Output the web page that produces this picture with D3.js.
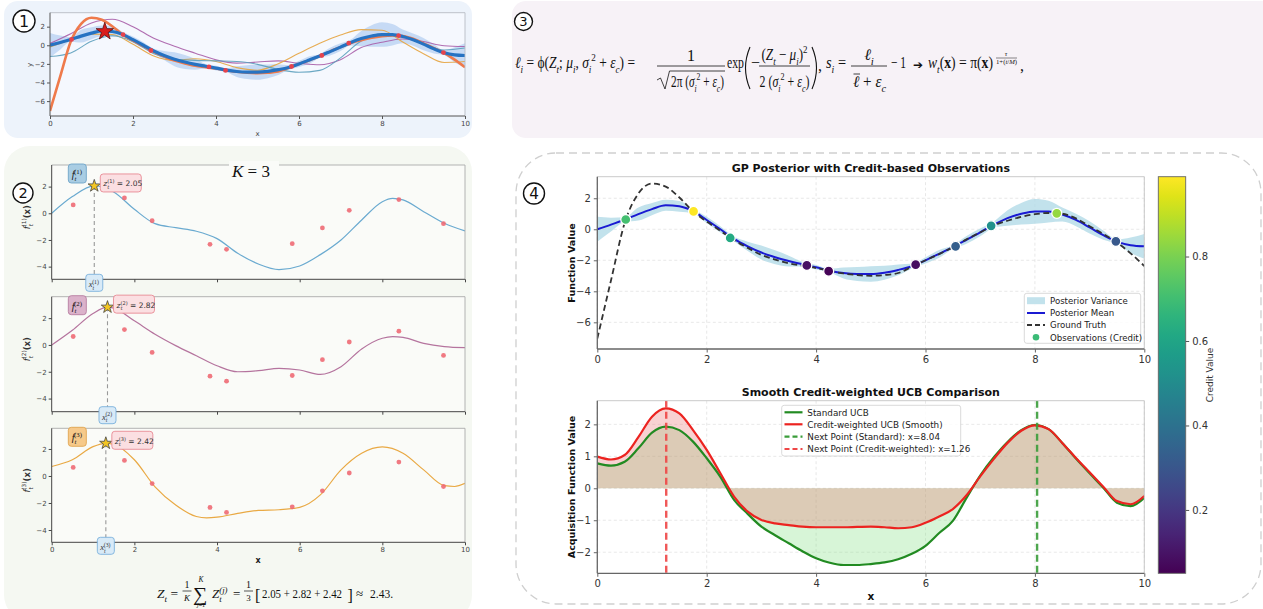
<!DOCTYPE html>
<html><head><meta charset="utf-8">
<script src="https://cdn.jsdelivr.net/npm/d3@7/dist/d3.min.js"></script>
<style>html,body{margin:0;padding:0;background:#fff;}svg{display:block;} text{white-space:pre;}</style>
</head><body>
<svg id="fig" width="1263" height="609"></svg>
<script>
// ================= DATA =================
const xGrid = [0,0.25,0.5,0.75,1,1.25,1.5,1.75,2,2.25,2.5,2.75,3,3.25,3.5,3.75,4,4.25,4.5,4.75,5,5.25,5.5,5.75,6,6.25,6.5,6.75,7,7.25,7.5,7.75,8,8.25,8.5,8.75,9,9.25,9.5,9.75,10];
const groundTruth = [-7.05,-3.3,0.4,2.3,2.95,2.75,2.05,1.15,0.5,-0.1,-0.7,-1.2,-1.65,-1.95,-2.2,-2.35,-2.5,-2.68,-2.85,-2.95,-3.0,-2.95,-2.82,-2.42,-2.0,-1.6,-1.15,-0.65,-0.2,0.25,0.55,0.8,0.97,1.05,1.0,0.7,0.2,-0.3,-0.85,-1.55,-2.37];
const posteriorMean = [0,0.3,0.62,0.98,1.3,1.55,1.48,1.17,0.6,0.0,-0.62,-1.1,-1.5,-1.8,-2.05,-2.25,-2.45,-2.67,-2.82,-2.88,-2.88,-2.8,-2.62,-2.38,-2.0,-1.58,-1.15,-0.68,-0.2,0.3,0.72,1.0,1.15,1.14,0.95,0.6,0.12,-0.38,-0.8,-1.03,-1.1];
const posteriorStd = [0.8,0.45,0.15,0.42,0.39,0.35,0.35,0.15,0.2,0.2,0.15,0.3,0.45,0.45,0.35,0.15,0.15,0.12,0.35,0.45,0.5,0.45,0.35,0.15,0.2,0.25,0.12,0.25,0.25,0.2,0.5,0.7,0.8,0.7,0.45,0.4,0.4,0.3,0.15,0.5,0.8];
const obsX = [0.52,1.76,2.43,3.83,4.23,5.82,6.55,7.2,8.4,9.48];
const obsY = [0.63,1.15,-0.56,-2.33,-2.7,-2.28,-1.1,0.22,1.03,-0.78];
const obsCredit = [0.71,0.99,0.62,0.09,0.06,0.08,0.33,0.52,0.84,0.31];

// panel 1 posterior samples
const sampleGrid = [0,0.5,1,1.5,2,2.5,3,3.5,4,4.5,5,5.5,6,6.5,7,7.5,8,8.5,9,9.5,10];
const p1SamplePurple = [0.2,1.25,2.4,2.8,2.0,0.75,-0.1,-0.85,-1.57,-1.92,-1.8,-1.68,-1.93,-2.1,-1.55,-0.25,0.32,0.67,0.4,-0.05,-0.14];
const p1SampleOrange = [-0.2,0.6,1.2,1.15,0.1,-1.15,-1.62,-1.45,-1.75,-2.4,-2.68,-1.98,-0.86,0.21,1.1,1.68,1.62,0.35,-0.9,-1.85,-1.75];
const p1SampleTeal = [-1.21,-0.82,0.42,1.02,0.39,-0.9,-1.5,-1.62,-1.68,-1.74,-2.05,-2.6,-2.9,-2.7,-1.35,0.45,1.1,1.0,0.15,-0.5,-0.3];
const p1Star = [1.32, 1.48];

// panel 2 Thompson samples
const p2Sample1X = [0,0.5,1.03,1.5,2,2.5,3,3.5,4,4.5,5,5.5,6,6.5,7,7.5,8,8.25,8.5,9,9.5,10];
const p2Sample1Y = [0,1.25,2.05,1.6,0.3,-0.78,-1.08,-1.35,-1.9,-3.0,-3.8,-4.22,-3.95,-3.1,-2.0,-0.5,0.87,1.12,1.0,0.12,-0.75,-1.32];
const p2Sample2X = [0,0.5,1,1.35,1.5,2,2.5,3,3.5,4,4.5,5,5.5,6,6.5,7,7.5,8,8.25,8.5,9,9.5,10];
const p2Sample2Y = [0,1.1,2.35,2.82,2.75,1.8,0.8,-0.05,-0.8,-1.55,-2.0,-1.92,-1.75,-1.87,-2.2,-1.62,-0.3,0.5,0.62,0.57,0.12,-0.12,-0.2];
const p2Sample3X = [0,0.5,1,1.31,1.5,2,2.5,3,3.5,3.75,4,4.5,5,5.5,6,6.5,7,7.5,8,8.5,9,9.5,9.75,10];
const p2Sample3Y = [0.7,1.2,2.17,2.42,2.35,1.2,-0.8,-2.15,-3.0,-3.1,-3.05,-2.77,-2.55,-2.5,-2.32,-1.4,0.45,1.68,2.15,1.68,0.45,-0.72,-0.78,-0.55];
const sampleLabels = ["(1)","(2)","(3)"];

// panel 4 acquisition
const ucbStandard = [0.78,0.71,0.83,1.25,1.74,1.93,1.82,1.46,0.94,0.36,-0.36,-0.8,-1.2,-1.47,-1.72,-1.97,-2.19,-2.33,-2.4,-2.4,-2.37,-2.32,-2.22,-2.05,-1.8,-1.4,-1.02,-0.3,0.4,0.97,1.45,1.82,1.98,1.85,1.42,0.93,0.47,0.02,-0.45,-0.56,-0.3];
const ucbCredit = [0.99,0.9,1.04,1.6,2.24,2.5,2.34,1.82,1.2,0.47,-0.26,-0.73,-0.99,-1.1,-1.15,-1.2,-1.22,-1.22,-1.22,-1.21,-1.2,-1.22,-1.25,-1.22,-1.08,-0.88,-0.65,-0.22,0.37,0.92,1.42,1.8,1.97,1.85,1.42,0.95,0.5,0.05,-0.4,-0.5,-0.24];
const nextStandard = 8.04;
const nextCredit = 1.26;

// ticks / labels
const xTicks = [0,2,4,6,8,10];
const p1YTicks = [-6,-4,-2,0,2];
const p2YTicks = [-4,-2,0,2];
const gpYTicks = [-6,-4,-2,0,2];
const acqYTicks = [-2,-1,0,1,2];
const cbTicks = [0.2,0.4,0.6,0.8];
const creditDomain = [0.05, 0.989];
const gpTitle = "GP Posterior with Credit-based Observations";
const acqTitle = "Smooth Credit-weighted UCB Comparison";
const legendGP = ["Posterior Variance","Posterior Mean","Ground Truth","Observations (Credit)"];
const legendAcq = ["Standard UCB","Credit-weighted UCB (Smooth)","Next Point (Standard): x=8.04","Next Point (Credit-weighted): x=1.26"];

// ================= HELPERS =================
const svg = d3.select("#fig");
const SANS = "'DejaVu Sans', sans-serif";
const SERIF = "'Liberation Serif', 'DejaVu Serif', serif";
const zip = (xs, ys) => xs.map((x, i) => [x, ys[i]]);
let clipN = 0;

function rich(g, x, y, parts, o = {}) {
  const size = o.size || 12;
  const t = g.append("text").attr("x", x).attr("y", y).attr("font-size", size)
    .attr("font-family", o.family || SERIF).attr("fill", o.fill || "#111");
  if (o.anchor) t.attr("text-anchor", o.anchor);
  if (o.weight) t.attr("font-weight", o.weight);
  if (o.len) t.attr("textLength", o.len).attr("lengthAdjust", "spacingAndGlyphs");
  if (o.transform) t.attr("transform", o.transform);
  let cur = 0;
  parts.forEach(p => {
    const arr = typeof p === "string" ? [p] : p;
    const s = arr[0], f = arr[1] || "", dx = arr[2];
    const fl = f.split(" ");
    let target = 0, fs = null;
    if (fl.includes("sub")) { target = size * 0.3; fs = size * 0.68; }
    if (fl.includes("sup")) { target = -size * 0.42; fs = size * 0.68; }
    const ts = t.append("tspan").text(s);
    if (target !== cur) ts.attr("dy", target - cur);
    cur = target;
    if (fs) ts.attr("font-size", fs);
    if (fl.includes("i")) ts.attr("font-style", "italic");
    if (fl.includes("b")) ts.attr("font-weight", "bold");
    if (dx) ts.attr("dx", dx);
  });
  return t;
}

function makePanel(g, o) {
  const x = d3.scaleLinear().domain(o.xDom).range([o.x0, o.x1]);
  const y = d3.scaleLinear().domain(o.yDom).range([o.y1, o.y0]);
  if (o.bg) g.append("rect").attr("x", o.x0).attr("y", o.y0).attr("width", o.x1 - o.x0).attr("height", o.y1 - o.y0).attr("fill", o.bg);
  if (o.grid) {
    const gg = g.append("g").attr("stroke", "#dedede").attr("stroke-width", 0.7).attr("stroke-dasharray", "3,2.5");
    gg.selectAll(".gx").data(o.xTicks).join("line").attr("x1", d => x(d)).attr("x2", d => x(d)).attr("y1", o.y0).attr("y2", o.y1);
    gg.selectAll(".gy").data(o.yTicks).join("line").attr("y1", d => y(d)).attr("y2", d => y(d)).attr("x1", o.x0).attr("x2", o.x1);
  }
  const id = "cp" + (clipN++);
  g.append("clipPath").attr("id", id).append("rect").attr("x", o.x0).attr("y", o.y0).attr("width", o.x1 - o.x0).attr("height", o.y1 - o.y0);
  const plot = g.append("g").attr("clip-path", `url(#${id})`);
  const over = g.append("g");
  over.append("line").attr("x1", o.x0).attr("x2", o.x1).attr("y1", o.y0).attr("y2", o.y0).attr("stroke", o.light).attr("stroke-width", 0.9);
  over.append("line").attr("x1", o.x1).attr("x2", o.x1).attr("y1", o.y0).attr("y2", o.y1).attr("stroke", o.light).attr("stroke-width", 0.9);
  over.append("line").attr("x1", o.x0).attr("x2", o.x0).attr("y1", o.y0).attr("y2", o.y1).attr("stroke", o.dark).attr("stroke-width", o.sw || 1);
  over.append("line").attr("x1", o.x0).attr("x2", o.x1).attr("y1", o.y1).attr("y2", o.y1).attr("stroke", o.dark).attr("stroke-width", o.sw || 1);
  const fmt = d3.format("d");
  const xa = over.append("g").attr("transform", `translate(0,${o.y1})`)
    .call(d3.axisBottom(x).tickValues(o.xTicks).tickSize(o.tl).tickPadding(o.tp).tickFormat(o.xLabels === false ? () => "" : fmt));
  const ya = over.append("g").attr("transform", `translate(${o.x0},0)`)
    .call(d3.axisLeft(y).tickValues(o.yTicks).tickSize(o.tl).tickPadding(o.tp).tickFormat(fmt));
  [xa, ya].forEach(a => {
    a.select(".domain").remove();
    a.selectAll("line").attr("stroke", o.dark);
    a.selectAll("text").attr("font-size", o.fs).attr("font-family", SANS).attr("fill", o.tc || "#333");
  });
  return { x, y, plot, over };
}

function circled(x, y, r, label) {
  svg.append("circle").attr("cx", x).attr("cy", y).attr("r", r).attr("fill", "#fff").attr("stroke", "#111").attr("stroke-width", 1.4);
  svg.append("text").attr("x", x).attr("y", y + r * 0.5).attr("text-anchor", "middle").attr("font-family", SANS)
    .attr("font-size", r * 1.45).attr("fill", "#111").text(label);
}

// ================= BACKGROUND CARDS =================
svg.append("rect").attr("x", 4).attr("y", 1).attr("width", 468).attr("height", 137).attr("rx", 14).attr("fill", "#edf3fb");
svg.append("rect").attr("x", 4).attr("y", 146).attr("width", 468).attr("height", 475).attr("rx", 26).attr("fill", "#f5f8f2");
svg.append("rect").attr("x", 512).attr("y", 1).attr("width", 770).attr("height", 137).attr("rx", 14).attr("fill", "#f7f2f7");
svg.append("rect").attr("x", 516).attr("y", 153).attr("width", 745).attr("height", 451).attr("rx", 40)
  .attr("fill", "none").attr("stroke", "#cfcfcf").attr("stroke-width", 1.3).attr("stroke-dasharray", "8,5");

// ================= PANEL 1 =================
(function () {
  const g = svg.append("g");
  const P = makePanel(g, { x0: 50, x1: 465, y0: 12.7, y1: 116, xDom: [0, 10], yDom: [-7.6, 3.5], bg: "#f5f8fe",
    xTicks, yTicks: p1YTicks, tl: 3, tp: 2, fs: 7, dark: "#555", light: "#b8bcc4", tc: "#444" });
  const { x, y, plot } = P;
  const k = 1.65;
  plot.append("path").datum(xGrid.map((v, i) => [v, posteriorMean[i] - k * posteriorStd[i], posteriorMean[i] + k * posteriorStd[i]]))
    .attr("fill", "#a9c8ef").attr("opacity", 0.62)
    .attr("d", d3.area().x(d => x(d[0])).y0(d => y(d[1])).y1(d => y(d[2])).curve(d3.curveMonotoneX));
  const line = d3.line().x(d => x(d[0])).y(d => y(d[1])).curve(d3.curveMonotoneX);
  [[p1SamplePurple, "#a85ea8"], [p1SampleOrange, "#e6a440"], [p1SampleTeal, "#5b9fbd"]].forEach(([s, c]) => {
    plot.append("path").datum(zip(sampleGrid, s)).attr("fill", "none").attr("stroke", c).attr("stroke-width", 1.1).attr("opacity", 0.9).attr("d", line);
  });
  plot.append("path").datum(zip(xGrid, groundTruth)).attr("fill", "none").attr("stroke", "#ef7a4b").attr("stroke-width", 2.6).attr("d", line);
  plot.append("path").datum(zip(xGrid, posteriorMean)).attr("fill", "none").attr("stroke", "#2672c2").attr("stroke-width", 3.2).attr("d", line);
  plot.selectAll(".o").data(zip(obsX, obsY)).join("circle").attr("cx", d => x(d[0])).attr("cy", d => y(d[1])).attr("r", 2.4).attr("fill", "#e5434d");
  plot.append("path").attr("d", d3.symbol(d3.symbolStar, 95)()).attr("transform", `translate(${x(p1Star[0])},${y(p1Star[1])})`)
    .attr("fill", "#d81c1c").attr("stroke", "#5a0c0c").attr("stroke-width", 0.8);
  g.append("text").attr("x", 257.5).attr("y", 135.5).attr("text-anchor", "middle").attr("font-family", SANS).attr("font-size", 7).attr("fill", "#444").text("x");
  g.append("text").attr("transform", "translate(32,65) rotate(-90)").attr("text-anchor", "middle").attr("font-family", SANS).attr("font-size", 7).attr("fill", "#444").text("y");
})();
circled(24, 21, 11, "1");

// ================= PANEL 2 =================
(function () {
  const subs = [
    { xs: p2Sample1X, ys: p2Sample1Y, color: "#6aaad0", fFill: "#a9cde3", fStroke: "#6fa5c8", y0: 165, y1: 279.3, yDom: [-4.95, 3.62] },
    { xs: p2Sample2X, ys: p2Sample2Y, color: "#b5749e", fFill: "#dbb2ca", fStroke: "#b77da0", y0: 296.7, y1: 411.7, yDom: [-4.98, 3.6] },
    { xs: p2Sample3X, ys: p2Sample3Y, color: "#e9a944", fFill: "#f6c98a", fStroke: "#e0a550", y0: 428.3, y1: 542.3, yDom: [-4.91, 3.53] }
  ];
  subs.forEach((s, si) => {
    const g = svg.append("g");
    const P = makePanel(g, { x0: 51.7, x1: 465, y0: s.y0, y1: s.y1, xDom: [0, 10], yDom: s.yDom, bg: "#fafbf8",
      xTicks, yTicks: p2YTicks, tl: 3, tp: 2, fs: 7, dark: "#444", light: "#aaa", tc: "#444", xLabels: si === 2 });
    const { x, y, plot, over } = P;
    const line = d3.line().x(d => x(d[0])).y(d => y(d[1])).curve(d3.curveMonotoneX);
    plot.append("path").datum(zip(s.xs, s.ys)).attr("fill", "none").attr("stroke", s.color).attr("stroke-width", 1.2).attr("d", line);
    plot.selectAll(".o").data(zip(obsX, obsY)).join("circle").attr("cx", d => x(d[0])).attr("cy", d => y(d[1])).attr("r", 2.4).attr("fill", "#ee6a74").attr("opacity", 0.9);
    const iMax = d3.maxIndex(s.ys);
    const sx = x(s.xs[iMax]), sy = y(s.ys[iMax]);
    over.append("line").attr("x1", sx).attr("x2", sx).attr("y1", sy).attr("y2", s.y1).attr("stroke", "#999").attr("stroke-width", 1.1).attr("stroke-dasharray", "4,3");
    over.append("path").attr("d", d3.symbol(d3.symbolStar, 48)()).attr("transform", `translate(${sx},${sy})`)
      .attr("fill", "#f3c623").attr("stroke", "#444").attr("stroke-width", 0.8);
    const fx = x(0.62);
    over.append("rect").attr("x", fx - 9).attr("y", s.y0 - 1).attr("width", 18).attr("height", 19).attr("rx", 3)
      .attr("fill", s.fFill).attr("stroke", s.fStroke).attr("stroke-width", 0.9);
    rich(over, fx - 5.5, s.y0 + 13, [["f", "i"], ["t", "i sub"], [sampleLabels[si], "sup", -2.5]], { size: 10 });
    const zLabel = d3.format(".2f")(s.ys[iMax]);
    over.append("rect").attr("x", sx + 6).attr("y", sy - 12).attr("width", 41).attr("height", 18).attr("rx", 3)
      .attr("fill", "#fbdfe2").attr("stroke", "#e88a94").attr("stroke-width", 0.9);
    rich(over, sx + 9, sy + 0.5, [["z", "i"], ["t", "i sub"], [sampleLabels[si], "sup", -2], [" = " + zLabel, ""]], { size: 7.5, family: SANS, fill: "#333" });
    over.append("rect").attr("x", sx - 8.5).attr("y", s.y1 - 5).attr("width", 17).attr("height", 17).attr("rx", 3)
      .attr("fill", "#d8eaf7").attr("stroke", "#7bb1dc").attr("stroke-width", 0.9);
    rich(over, sx - 5.5, s.y1 + 8, [["x", "i"], ["t", "i sub"], [sampleLabels[si], "sup", -2]], { size: 8.5, fill: "#333" });
    rich(g, 0, 0, [["f", "i"], ["t", "i sub"], [sampleLabels[si], "sup", -2.5], ["(x)", "b"]],
      { size: 8.5, family: SANS, anchor: "middle", fill: "#333", transform: `translate(30,${(s.y0 + s.y1) / 2 - 5}) rotate(-90)` });
    if (si === 0) {
      over.append("rect").attr("x", 229).attr("y", 161).attr("width", 50).attr("height", 18).attr("fill", "#fafbf8");
      rich(over, 232, 177, [["K", "i"], [" = 3", ""]], { size: 17 });
    }
  });
  svg.append("text").attr("x", 258).attr("y", 563).attr("text-anchor", "middle").attr("font-family", SANS)
    .attr("font-size", 8).attr("font-weight", "bold").attr("fill", "#222").text("x");

  const f = svg.append("g");
  rich(f, 157, 598, [["Z", "i"], ["t", "i sub"], [" =", ""]], { size: 13, len: 21 });
  f.append("line").attr("x1", 182.5).attr("x2", 191.5).attr("y1", 591).attr("y2", 591).attr("stroke", "#111").attr("stroke-width", 0.7);
  rich(f, 187, 588, [["1", ""]], { size: 10, anchor: "middle" });
  rich(f, 187, 601, [["K", "i"]], { size: 9, anchor: "middle" });
  rich(f, 193, 601, [["∑", ""]], { size: 20 });
  rich(f, 201, 581.5, [["K", "i"]], { size: 7.5, anchor: "middle" });
  rich(f, 201, 606.5, [["j", "i"], ["=1", ""]], { size: 6, anchor: "middle" });
  rich(f, 212, 598, [["Z", "i"], ["t", "i sub"], ["(j)", "i sup", -2.5]], { size: 13 });
  rich(f, 233, 598, [["=", ""]], { size: 13 });
  f.append("line").attr("x1", 244).attr("x2", 253).attr("y1", 591).attr("y2", 591).attr("stroke", "#111").attr("stroke-width", 0.7);
  rich(f, 248.5, 588, [["1", ""]], { size: 10, anchor: "middle" });
  rich(f, 248.5, 601, [["3", ""]], { size: 9, anchor: "middle" });
  rich(f, 255, 601, [["[", ""]], { size: 16 });
  rich(f, 262, 598, [["2.05 + 2.82 + 2.42", ""]], { size: 13, len: 80 });
  rich(f, 347.5, 601, [["]", ""]], { size: 16 });
  rich(f, 356, 598, [["≈", ""]], { size: 13 });
  rich(f, 370, 598, [["2.43.", ""]], { size: 13, len: 23 });
})();
circled(23, 193, 10, "2");

// ================= PANEL 3 (formula) =================
(function () {
  const g = svg.append("g");
  const S = 16;
  const sig = [["σ", "i"], ["i", "i sub"], ["2", "sup"]];
  const eps = [["ε", "i"], ["c", "i sub"]];
  rich(g, 515, 68, [["ℓ", "i"], ["i", "i sub"], [" = ", ""], ["ϕ", ""], ["(", ""], ["Z", "i"], ["t", "i sub"], ["; ", ""], ["μ", "i"], ["i", "i sub"], [", ", ""], ...sig, [" + ", ""], ...eps, [")", ""], [" =", ""]], { size: S, len: 120 });
  g.append("line").attr("x1", 657).attr("x2", 725).attr("y1", 66).attr("y2", 66).attr("stroke", "#111").attr("stroke-width", 0.8);
  rich(g, 691, 61, [["1", ""]], { size: S, anchor: "middle" });
  g.append("path").attr("d", "M657,80 L660.5,78 L665,89 L669.5,71 L725,71").attr("fill", "none").attr("stroke", "#111").attr("stroke-width", 0.8);
  rich(g, 671, 87, [["2π (", ""], ...sig, [" + ", ""], ...eps, [")", ""]], { size: S, len: 53 });
  rich(g, 727, 68, [["exp", ""]], { size: S, len: 17 });
  g.append("path").attr("d", "M750,47 Q741,68 750,89").attr("fill", "none").attr("stroke", "#111").attr("stroke-width", 1.1);
  rich(g, 751, 68, [["−", ""]], { size: S });
  g.append("line").attr("x1", 759).attr("x2", 810).attr("y1", 66).attr("y2", 66).attr("stroke", "#111").attr("stroke-width", 0.8);
  rich(g, 784.5, 60, [["(", ""], ["Z", "i"], ["t", "i sub"], [" − ", ""], ["μ", "i"], ["i", "i sub"], [")", ""], ["2", "sup"]], { size: S, anchor: "middle", len: 46 });
  rich(g, 784.5, 87, [["2 (", ""], ...sig, [" + ", ""], ...eps, [")", ""]], { size: S, anchor: "middle", len: 50 });
  g.append("path").attr("d", "M812,47 Q821,68 812,89").attr("fill", "none").attr("stroke", "#111").attr("stroke-width", 1.1);
  rich(g, 818, 71, [[",", ""]], { size: S });
  rich(g, 826, 68, [["s", "i"], ["i", "i sub"], [" =", ""]], { size: S, len: 20 });
  g.append("line").attr("x1", 851).attr("x2", 887).attr("y1", 66).attr("y2", 66).attr("stroke", "#111").attr("stroke-width", 0.8);
  rich(g, 869, 60, [["ℓ", "i"], ["i", "i sub"]], { size: S, anchor: "middle" });
  rich(g, 853, 87, [["ℓ", "i"], [" + ", ""], ...eps], { size: S, len: 33 });
  g.append("line").attr("x1", 853.5).attr("x2", 860).attr("y1", 74).attr("y2", 74).attr("stroke", "#111").attr("stroke-width", 0.8);
  rich(g, 891, 68, [["− 1", ""]], { size: S, len: 15 });
  rich(g, 913, 69, [["➔", ""]], { size: 12, family: SANS });
  rich(g, 928, 68, [["w", "i"], ["t", "i sub"], ["(", ""], ["x", "b"], [")", ""], [" = ", ""], ["π", ""], ["(", ""], ["x", "b"], [")", ""]], { size: S, len: 65 });
  rich(g, 1006, 55.5, [["τ", "i"]], { size: 7, anchor: "middle" });
  g.append("line").attr("x1", 996).attr("x2", 1017).attr("y1", 58).attr("y2", 58).attr("stroke", "#111").attr("stroke-width", 0.5);
  rich(g, 1006.5, 64, [["1+(", ""], ["t", "i"], ["/", ""], ["M", "i"], [")", ""]], { size: 6, anchor: "middle", len: 21 });
  rich(g, 1020, 71, [[",", ""]], { size: S });
})();
circled(523.5, 21.5, 9, "3");

// ================= PANEL 4 =================
const credit = d3.scaleSequential(d3.interpolateViridis).domain(creditDomain);
(function () {
  const g = svg.append("g");
  const P = makePanel(g, { x0: 597.3, x1: 1144.3, y0: 176.7, y1: 349, xDom: [0, 10], yDom: [-7.72, 3.39], bg: "#fff", grid: true,
    xTicks, yTicks: gpYTicks, tl: 3.5, tp: 3, fs: 10, dark: "#666", light: "#c4c4c4", tc: "#333", sw: 1.3 });
  const { x, y, plot } = P;
  plot.append("path").datum(xGrid.map((v, i) => [v, posteriorMean[i] - posteriorStd[i], posteriorMean[i] + posteriorStd[i]]))
    .attr("fill", "#add8e6").attr("opacity", 0.75)
    .attr("d", d3.area().x(d => x(d[0])).y0(d => y(d[1])).y1(d => y(d[2])).curve(d3.curveMonotoneX));
  const line = d3.line().x(d => x(d[0])).y(d => y(d[1])).curve(d3.curveMonotoneX);
  plot.append("path").datum(zip(xGrid, posteriorMean)).attr("fill", "none").attr("stroke", "#1a1ad2").attr("stroke-width", 2).attr("d", line);
  plot.append("path").datum(zip(xGrid, groundTruth)).attr("fill", "none").attr("stroke", "#333").attr("stroke-width", 1.8).attr("stroke-dasharray", "6,3.5").attr("d", line);
  plot.selectAll(".o").data(obsX.map((v, i) => [v, obsY[i], obsCredit[i]])).join("circle")
    .attr("cx", d => x(d[0])).attr("cy", d => y(d[1])).attr("r", 5).attr("fill", d => credit(d[2])).attr("stroke", "#fff").attr("stroke-width", 1.3);
  g.append("text").attr("x", 870.8).attr("y", 171.5).attr("text-anchor", "middle").attr("font-family", SANS).attr("font-weight", "bold")
    .attr("font-size", 11).attr("fill", "#111").text(gpTitle);
  g.append("text").attr("transform", "translate(575,263) rotate(-90)").attr("text-anchor", "middle").attr("font-family", SANS)
    .attr("font-weight", "bold").attr("font-size", 9.5).attr("fill", "#111").text("Function Value");
  const L = g.append("g");
  L.append("rect").attr("x", 1024.3).attr("y", 293.3).attr("width", 116.4).attr("height", 50).attr("rx", 2.5)
    .attr("fill", "#fff").attr("fill-opacity", 0.85).attr("stroke", "#d0d0d0").attr("stroke-width", 0.8);
  const rows = [300.7, 313, 325, 337.3];
  L.append("rect").attr("x", 1027).attr("y", rows[0] - 3.5).attr("width", 18).attr("height", 7).attr("fill", "#add8e6").attr("opacity", 0.75);
  L.append("line").attr("x1", 1027).attr("x2", 1045).attr("y1", rows[1]).attr("y2", rows[1]).attr("stroke", "#1a1ad2").attr("stroke-width", 2);
  L.append("line").attr("x1", 1027).attr("x2", 1045).attr("y1", rows[2]).attr("y2", rows[2]).attr("stroke", "#333").attr("stroke-width", 1.8).attr("stroke-dasharray", "5,3");
  L.append("circle").attr("cx", 1036).attr("cy", rows[3]).attr("r", 3.3).attr("fill", "#3bbb77");
  legendGP.forEach((t, i) => L.append("text").attr("x", 1050).attr("y", rows[i] + 3.2).attr("font-family", SANS).attr("font-size", 8.6).attr("fill", "#222").text(t));
})();

(function () {
  const g = svg.append("g");
  const P = makePanel(g, { x0: 597.3, x1: 1144.3, y0: 400.7, y1: 573.3, xDom: [0, 10], yDom: [-2.66, 2.74], bg: "#fff", grid: true,
    xTicks, yTicks: acqYTicks, tl: 3.5, tp: 3, fs: 10, dark: "#666", light: "#c4c4c4", tc: "#333", sw: 1.3 });
  const { x, y, plot } = P;
  const area = d3.area().x(d => x(d[0])).y0(y(0)).y1(d => y(d[1])).curve(d3.curveMonotoneX);
  plot.append("path").datum(zip(xGrid, ucbStandard)).attr("fill", "#7ade7a").attr("opacity", 0.3).attr("d", area);
  plot.append("path").datum(zip(xGrid, ucbCredit)).attr("fill", "#e86a6a").attr("opacity", 0.3).attr("d", area);
  const line = d3.line().x(d => x(d[0])).y(d => y(d[1])).curve(d3.curveMonotoneX);
  plot.append("path").datum(zip(xGrid, ucbStandard)).attr("fill", "none").attr("stroke", "#228b22").attr("stroke-width", 2.2).attr("d", line);
  plot.append("path").datum(zip(xGrid, ucbCredit)).attr("fill", "none").attr("stroke", "#ec2320").attr("stroke-width", 2.2).attr("d", line);
  plot.append("line").attr("x1", x(nextStandard)).attr("x2", x(nextStandard)).attr("y1", 400.7).attr("y2", 573.3)
    .attr("stroke", "#3a9d3a").attr("stroke-width", 2.4).attr("stroke-dasharray", "7,4").attr("opacity", 0.9);
  plot.append("line").attr("x1", x(nextCredit)).attr("x2", x(nextCredit)).attr("y1", 400.7).attr("y2", 573.3)
    .attr("stroke", "#ef4646").attr("stroke-width", 2.4).attr("stroke-dasharray", "7,4").attr("opacity", 0.9);
  g.append("text").attr("x", 870.8).attr("y", 396).attr("text-anchor", "middle").attr("font-family", SANS).attr("font-weight", "bold")
    .attr("font-size", 11).attr("fill", "#111").text(acqTitle);
  g.append("text").attr("transform", "translate(575,487) rotate(-90)").attr("text-anchor", "middle").attr("font-family", SANS)
    .attr("font-weight", "bold").attr("font-size", 9.5).attr("fill", "#111").text("Acquisition Function Value");
  g.append("text").attr("x", 870.8).attr("y", 600).attr("text-anchor", "middle").attr("font-family", SANS).attr("font-weight", "bold")
    .attr("font-size", 10.5).attr("fill", "#111").text("x");
  const L = g.append("g");
  L.append("rect").attr("x", 781.7).attr("y", 405.3).attr("width", 179).attr("height", 50.7).attr("rx", 2.5)
    .attr("fill", "#fff").attr("fill-opacity", 0.85).attr("stroke", "#d0d0d0").attr("stroke-width", 0.8);
  const rows = [412.3, 424.3, 436.7, 449];
  L.append("line").attr("x1", 784.5).attr("x2", 802.5).attr("y1", rows[0]).attr("y2", rows[0]).attr("stroke", "#228b22").attr("stroke-width", 2.2);
  L.append("line").attr("x1", 784.5).attr("x2", 802.5).attr("y1", rows[1]).attr("y2", rows[1]).attr("stroke", "#ec2320").attr("stroke-width", 2.2);
  L.append("line").attr("x1", 784.5).attr("x2", 802.5).attr("y1", rows[2]).attr("y2", rows[2]).attr("stroke", "#3a9d3a").attr("stroke-width", 2.2).attr("stroke-dasharray", "5,3");
  L.append("line").attr("x1", 784.5).attr("x2", 802.5).attr("y1", rows[3]).attr("y2", rows[3]).attr("stroke", "#ef4646").attr("stroke-width", 2.2).attr("stroke-dasharray", "5,3");
  legendAcq.forEach((t, i) => L.append("text").attr("x", 807.3).attr("y", rows[i] + 3.3).attr("font-family", SANS).attr("font-size", 8.8).attr("fill", "#222").text(t));
})();

// colorbar
(function () {
  const g = svg.append("g");
  const grad = g.append("defs").append("linearGradient").attr("id", "vir").attr("x1", 0).attr("y1", 1).attr("x2", 0).attr("y2", 0);
  d3.range(0, 1.0001, 0.05).forEach(t => grad.append("stop").attr("offset", t).attr("stop-color", d3.interpolateViridis(t)));
  const cy = d3.scaleLinear().domain(creditDomain).range([573.3, 176.7]);
  g.append("rect").attr("x", 1158.3).attr("y", 176.7).attr("width", 27.4).attr("height", 396.6).attr("fill", "url(#vir)").attr("stroke", "#666").attr("stroke-width", 0.9);
  const ax = g.append("g").attr("transform", "translate(1185.7,0)").call(d3.axisRight(cy).tickValues(cbTicks).tickSize(3.5).tickPadding(3).tickFormat(d3.format(".1f")));
  ax.select(".domain").remove();
  ax.selectAll("line").attr("stroke", "#555");
  ax.selectAll("text").attr("font-size", 10).attr("font-family", SANS).attr("fill", "#333");
  g.append("text").attr("transform", "translate(1213,375) rotate(-90)").attr("text-anchor", "middle").attr("font-family", SANS)
    .attr("font-size", 9).attr("fill", "#333").text("Credit Value");
})();
circled(534, 193.5, 10.5, "4");
</script>
</body></html>
